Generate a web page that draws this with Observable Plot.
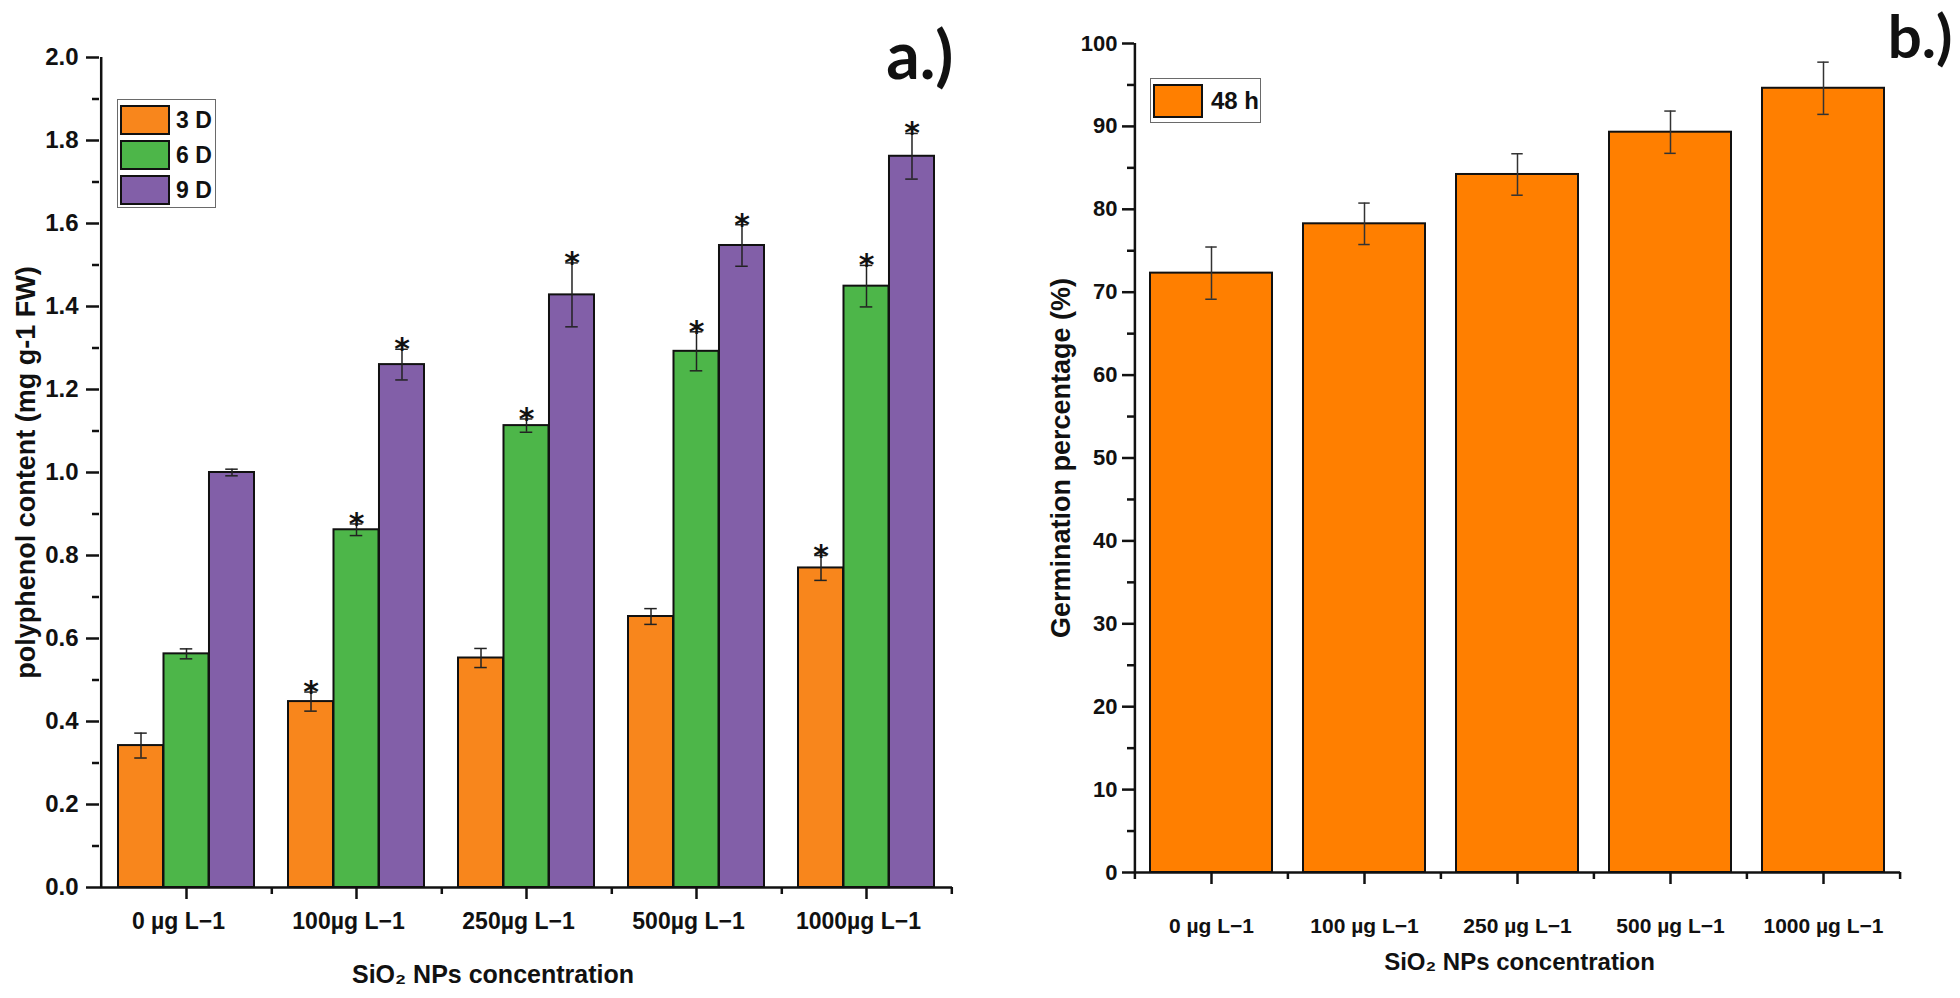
<!DOCTYPE html>
<html>
<head>
<meta charset="utf-8">
<script src="https://cdn.jsdelivr.net/npm/d3@7"></script>
<script src="https://cdn.jsdelivr.net/npm/@observablehq/plot@0.6"></script>
<style>
  html, body { margin: 0; padding: 0; background: #fff; }
  #wrap { position: relative; width: 1960px; height: 998px; background: #fff; overflow: hidden; }
  .panel { position: absolute; top: 0; width: 980px; height: 998px; }
  g[aria-label="ytitle"] text { letter-spacing: 2px; }
  .legend { position: absolute; border: 1.5px solid #6a6a6a; background: #fff; box-sizing: border-box;
            font-family: 'Liberation Sans', Arial, sans-serif; font-weight: bold; color: #111; }
  .legend .sw { box-sizing: border-box; border: 2px solid #111; }
  .legend .lab { position: absolute; white-space: nowrap; }
</style>
</head>
<body>
<div id="wrap">
  <div id="pa" class="panel" style="left:0"></div>
  <div id="pb" class="panel" style="left:980px"></div>
</div>
<script>
// ---------------- data: panel a (polyphenol content) ----------------
const concA = ["0 µg L−1", "100µg L−1", "250µg L−1", "500µg L−1", "1000µg L−1"];
const days = ["3 D", "6 D", "9 D"];
const mean3D = [0.342, 0.448, 0.553, 0.653, 0.770];
const err3D  = [0.030, 0.023, 0.023, 0.019, 0.030];
const mean6D = [0.563, 0.862, 1.113, 1.292, 1.449];
const err6D  = [0.012, 0.014, 0.016, 0.047, 0.050];
const mean9D = [1.000, 1.260, 1.428, 1.547, 1.762];
const err9D  = [0.008, 0.037, 0.077, 0.050, 0.055];
const sig3D = [false, true, false, false, true];
const sig6D = [false, true, true, true, true];
const sig9D = [false, true, true, true, true];
const yTicksA = [0.0, 0.2, 0.4, 0.6, 0.8, 1.0, 1.2, 1.4, 1.6, 1.8, 2.0];
const yMinorA = [0.1, 0.3, 0.5, 0.7, 0.9, 1.1, 1.3, 1.5, 1.7, 1.9];
const colorsA = ["#f8861c", "#4db649", "#825fa8"];

// ---------------- data: panel b (germination percentage) ----------------
const concB = ["0 µg L−1", "100 µg L−1", "250 µg L−1", "500 µg L−1", "1000 µg L−1"];
const germ48 = [72.3, 78.25, 84.2, 89.3, 94.6];
const germErr = [3.15, 2.5, 2.5, 2.55, 3.15];
const yTicksB = [0, 10, 20, 30, 40, 50, 60, 70, 80, 90, 100];
const yMinorB = [5, 15, 25, 35, 45, 55, 65, 75, 85, 95];
const colorB = "#ff7f00";

const FONT = "'Liberation Sans', Arial, sans-serif";

// rows for panel a
const meansA = [mean3D, mean6D, mean9D];
const errsA = [err3D, err6D, err9D];
const sigsA = [sig3D, sig6D, sig9D];
const rowsA = [];
days.forEach((day, k) => concA.forEach((c, i) => rowsA.push({conc: c, day, k, value: meansA[k][i], err: errsA[k][i], sig: sigsA[k][i]})));

// ---------------- panel a ----------------
{
  const W = 980, H = 998, mL = 99, mR = 28, mT = 57, mB = 111;
  const step = (W - mL - mR) / concA.length;      // band step
  const bw = step * 0.8;                           // bandwidth (paddingInner .2)
  const barW = bw / days.length;
  const capW = 13;
  const marks = [];
  days.forEach((day, k) => {
    const rows = rowsA.filter(d => d.k === k);
    marks.push(Plot.barY(rows, {x: "conc", y: "value", fill: "day", stroke: "#111", strokeWidth: 2,
      insetLeft: barW * k, insetRight: barW * (days.length - 1 - k)}));
  });
  days.forEach((day, k) => {
    const rows = rowsA.filter(d => d.k === k);
    const off = (k - 1) * barW;
    marks.push(Plot.ruleX(rows, {x: "conc", y1: d => d.value - d.err, y2: d => d.value + d.err, dx: off, stroke: "#222", strokeWidth: 1.5}));
    marks.push(Plot.tickY(rows, {x: "conc", y: d => d.value + d.err, dx: off, insetLeft: (bw - capW) / 2, insetRight: (bw - capW) / 2, stroke: "#222", strokeWidth: 1.5}));
    marks.push(Plot.tickY(rows, {x: "conc", y: d => d.value - d.err, dx: off, insetLeft: (bw - capW) / 2, insetRight: (bw - capW) / 2, stroke: "#222", strokeWidth: 1.5}));
    marks.push(Plot.text(rows.filter(d => d.sig), {x: "conc", y: d => d.value + d.err, text: () => "*", dx: off, dy: 10,
      lineAnchor: "bottom", fontSize: 30, fontWeight: "bold", fontFamily: "'DejaVu Sans', sans-serif", fill: "#111"}));
  });
  // axes
  marks.push(Plot.ruleY([0], {stroke: "#111", strokeWidth: 2.5}));
  marks.push(Plot.ruleX([concA[0]], {dx: -step / 2, stroke: "#111", strokeWidth: 2.5}));
  marks.push(Plot.axisY({ticks: yTicksA, tickFormat: d => d.toFixed(1), tickSize: 13, tickPadding: 8, strokeWidth: 2.5,
    fontSize: 24, fontWeight: "bold", label: null}));
  marks.push(Plot.axisY({ticks: yMinorA, tickFormat: () => "", tickSize: 7, strokeWidth: 2.5, label: null}));
  marks.push(Plot.axisX({ticks: concA, tickFormat: () => "", tickSize: 12, strokeWidth: 2.5, label: null}));
  marks.push(Plot.axisX({ticks: concA, tickSize: 0, tickPadding: 25, dx: -8, fontSize: 23, fontWeight: "bold", label: null}));
  marks.push(Plot.axisX({ticks: concA, tickFormat: () => "", tickSize: 7, strokeWidth: 2.5, dx: step / 2, label: null}));
  // titles
  marks.push(Plot.text(["polyphenol content (mg g-1 FW)"], {frameAnchor: "left", rotate: -90, dx: -73, lineAnchor: "middle",
    textAnchor: "middle", fontSize: 27, fontWeight: "bold", ariaLabel: "ytitle", fill: "#111"}));
  marks.push(Plot.text(["SiO₂ NPs concentration"], {frameAnchor: "bottom", dx: -33, dy: 87, lineAnchor: "middle",
    fontSize: 25, fontWeight: "bold", fill: "#111"}));
  marks.push(Plot.text(["a.)"], {frameAnchor: "top-right", textAnchor: "end", lineAnchor: "bottom", dx: 1, dy: 21,
    fontSize: 66, fontWeight: "bold", fontFamily: "Lato, 'Open Sans', sans-serif", fill: "#111"}));

  const chart = Plot.plot({
    width: W, height: H, marginLeft: mL, marginRight: mR, marginTop: mT, marginBottom: mB,
    x: {domain: concA, paddingInner: 0.2, paddingOuter: 0.1, axis: null},
    y: {domain: [0, 2], axis: null},
    color: {domain: days, range: colorsA},
    style: {fontFamily: FONT, fontSize: "23px", color: "#111", background: "transparent", overflow: "visible"},
    marks
  });
  document.getElementById("pa").appendChild(chart);
}

// ---------------- panel b ----------------
{
  const W = 980, H = 998, mL = 154, mR = 60, mT = 43, mB = 126;
  const step = (W - mL - mR) / concB.length;
  const bw = step * 0.8;
  const capW = 12;
  const rows = concB.map((c, i) => ({conc: c, value: germ48[i], err: germErr[i], series: "48 h"}));
  const marks = [
    Plot.barY(rows, {x: "conc", y: "value", fill: colorB, stroke: "#111", strokeWidth: 2}),
    Plot.ruleX(rows, {x: "conc", y1: d => d.value - d.err, y2: d => d.value + d.err, stroke: "#333", strokeWidth: 1.5}),
    Plot.tickY(rows, {x: "conc", y: d => d.value + d.err, insetLeft: (bw - capW) / 2, insetRight: (bw - capW) / 2, stroke: "#333", strokeWidth: 1.5}),
    Plot.tickY(rows, {x: "conc", y: d => d.value - d.err, insetLeft: (bw - capW) / 2, insetRight: (bw - capW) / 2, stroke: "#333", strokeWidth: 1.5}),
    Plot.ruleY([0], {stroke: "#111", strokeWidth: 2.5}),
    Plot.ruleX([concB[0]], {dx: -step / 2, stroke: "#111", strokeWidth: 2.5}),
    Plot.axisY({ticks: yTicksB, tickSize: 12, tickPadding: 5, strokeWidth: 2.5, fontSize: 22, fontWeight: "bold", label: null}),
    Plot.axisY({ticks: yMinorB, tickFormat: () => "", tickSize: 7, strokeWidth: 2.5, label: null}),
    Plot.axisX({ticks: concB, tickFormat: () => "", tickSize: 12, strokeWidth: 2.5, label: null}),
    Plot.axisX({ticks: concB, tickSize: 0, tickPadding: 46, fontSize: 21, fontWeight: "bold", label: null}),
    Plot.axisX({ticks: concB, tickFormat: () => "", tickSize: 7, strokeWidth: 2.5, dx: -step / 2, label: null}),
    Plot.axisX({ticks: [concB[concB.length - 1]], tickFormat: () => "", tickSize: 7, strokeWidth: 2.5, dx: step / 2, label: null}),
    Plot.text(["Germination percentage (%)"], {frameAnchor: "left", rotate: -90, dx: -73, lineAnchor: "middle",
      textAnchor: "middle", fontSize: 27, fontWeight: "bold", ariaLabel: "ytitle", fill: "#111"}),
    Plot.text(["SiO₂ NPs concentration"], {frameAnchor: "bottom", dx: 2, dy: 90, lineAnchor: "middle",
      fontSize: 24, fontWeight: "bold", fill: "#111"}),
    Plot.text(["b.)"], {frameAnchor: "top-right", textAnchor: "end", lineAnchor: "bottom", dx: 52, dy: 14,
      fontSize: 60, fontWeight: "bold", fontFamily: "Lato, 'Open Sans', sans-serif", fill: "#111"})
  ];
  const chart = Plot.plot({
    width: W, height: H, marginLeft: mL, marginRight: mR, marginTop: mT, marginBottom: mB,
    x: {domain: concB, paddingInner: 0.2, paddingOuter: 0.1, axis: null},
    y: {domain: [0, 100], axis: null},
    style: {fontFamily: FONT, fontSize: "22px", color: "#111", background: "transparent", overflow: "visible"},
    marks
  });
  document.getElementById("pb").appendChild(chart);
}

// ---------------- legends (inside plot areas) ----------------
function legend(left, top, w, h, items, swW, swH, rowTops, textLeft, fontSize) {
  const box = document.createElement("div");
  box.className = "legend";
  Object.assign(box.style, {left: left + "px", top: top + "px", width: w + "px", height: h + "px"});
  items.forEach((it, j) => {
    const sw = document.createElement("div");
    sw.className = "sw";
    Object.assign(sw.style, {position: "absolute", left: "2px", top: rowTops[j] + "px", width: swW + "px", height: swH + "px", background: it.color});
    const lab = document.createElement("div");
    lab.className = "lab";
    lab.textContent = it.label;
    Object.assign(lab.style, {left: textLeft + "px", top: (rowTops[j] + swH / 2 - fontSize * 0.58) + "px", fontSize: fontSize + "px"});
    box.appendChild(sw); box.appendChild(lab);
  });
  document.getElementById("wrap").appendChild(box);
}
legend(117, 99, 99, 109, days.map((d, k) => ({label: d, color: colorsA[k]})), 50, 30, [5, 40, 75], 58, 23);
legend(1150, 78, 111, 45, [{label: "48 h", color: colorB}], 50, 34, [5], 60, 24);
</script>
</body>
</html>
